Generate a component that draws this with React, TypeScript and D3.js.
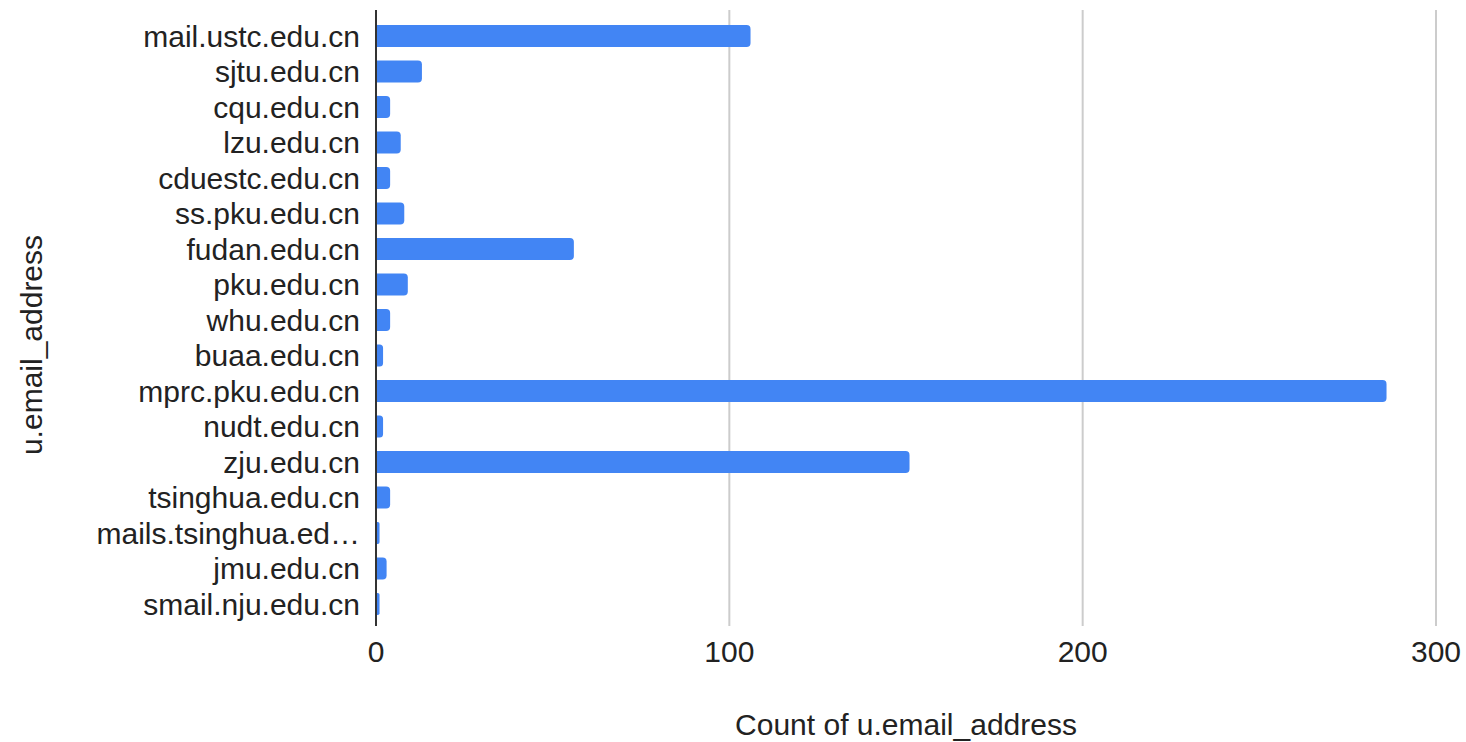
import React from "react";
import * as d3 from "d3";

const categories = [
  "mail.ustc.edu.cn",
  "sjtu.edu.cn",
  "cqu.edu.cn",
  "lzu.edu.cn",
  "cduestc.edu.cn",
  "ss.pku.edu.cn",
  "fudan.edu.cn",
  "pku.edu.cn",
  "whu.edu.cn",
  "buaa.edu.cn",
  "mprc.pku.edu.cn",
  "nudt.edu.cn",
  "zju.edu.cn",
  "tsinghua.edu.cn",
  "mails.tsinghua.ed\u2026",
  "jmu.edu.cn",
  "smail.nju.edu.cn",
];
const counts = [106, 13, 4, 7, 4, 8, 56, 9, 4, 2, 286, 2, 151, 4, 1, 3, 1];
const xTicks = [0, 100, 200, 300];
const xTitle = "Count of u.email_address";
const yTitle = "u.email_address";

const W = 1466;
const H = 742;
const FONT = "'Liberation Sans', Arial, Helvetica, sans-serif";

export default function App() {
  const x = d3.scaleLinear().domain([0, 300]).range([376, 1436]);
  const y = d3
    .scaleBand<string>()
    .domain(categories)
    .range([18.25, 621.75])
    .paddingInner(0.38)
    .paddingOuter(0.19);
  const bw = y.bandwidth();
  const r = 4;

  const barPath = (v: number, top: number) => {
    const x0 = x(0);
    const x1 = x(v);
    const rr = Math.min(r, (x1 - x0) / 2, bw / 2);
    const p = d3.path();
    p.moveTo(x0, top);
    p.lineTo(x1 - rr, top);
    p.arcTo(x1, top, x1, top + rr, rr);
    p.lineTo(x1, top + bw - rr);
    p.arcTo(x1, top + bw, x1 - rr, top + bw, rr);
    p.lineTo(x0, top + bw);
    p.closePath();
    return p.toString();
  };

  return (
    <svg
      width={W}
      height={H}
      style={{ position: "absolute", left: 0, top: 0, background: "#fff" }}
      fontFamily={FONT}
    >
      <rect x={0} y={0} width={W} height={H} fill="#fff" />
      {xTicks
        .filter((t) => t !== 0)
        .map((t) => (
          <line
            key={"g" + t}
            x1={x(t)}
            x2={x(t)}
            y1={10}
            y2={626}
            stroke="#cccccc"
            strokeWidth={2}
          />
        ))}
      {categories.map((c, i) => (
        <path key={c} d={barPath(counts[i], y(c)!)} fill="#4285f4" />
      ))}
      <line x1={x(0)} x2={x(0)} y1={10} y2={626} stroke="#333333" strokeWidth={2} />
      {categories.map((c) => (
        <text
          key={"l" + c}
          x={360}
          y={y(c)! + bw / 2}
          textAnchor="end"
          dominantBaseline="central"
          fontSize={30}
          fill="#222222"
        >
          {c}
        </text>
      ))}
      {xTicks.map((t) => (
        <text
          key={"t" + t}
          x={x(t)}
          y={651}
          textAnchor="middle"
          dominantBaseline="central"
          fontSize={30}
          fill="#222222"
        >
          {t}
        </text>
      ))}
      <text
        x={906}
        y={724}
        textAnchor="middle"
        dominantBaseline="central"
        fontSize={30}
        fill="#222222"
      >
        {xTitle}
      </text>
      <text
        transform={`translate(31,345) rotate(-90)`}
        textAnchor="middle"
        dominantBaseline="central"
        fontSize={30}
        fill="#222222"
      >
        {yTitle}
      </text>
    </svg>
  );
}
